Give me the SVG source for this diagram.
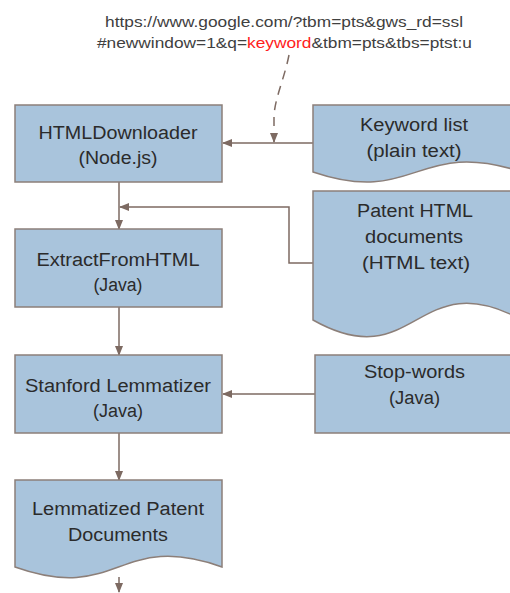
<svg xmlns="http://www.w3.org/2000/svg" width="510" height="593" viewBox="0 0 510 593">
<style>
.box{fill:#a9c4dc;stroke:#8c7f79;stroke-width:1.5}
.t{font-family:"Liberation Sans",Arial,sans-serif;font-size:18px;fill:#2b2b2b;text-anchor:middle}
.u{font-family:"Liberation Sans",Arial,sans-serif;font-size:14px;fill:#404040;text-anchor:middle}
.c{fill:none;stroke:#7d6a62;stroke-width:1.5}
</style>
<defs>
<marker id="ah" markerUnits="userSpaceOnUse" markerWidth="10" markerHeight="10" viewBox="0 0 10 10" refX="9" refY="5" orient="auto">
<path d="M0,1 L10,5 L0,9 z" fill="#7d6a62"/>
</marker>
</defs>
<g id="url">
<text class="u" x="284" y="27" textLength="358" lengthAdjust="spacingAndGlyphs">https://www.google.com/?tbm=pts&amp;gws_rd=ssl</text>
<text class="u" x="284.5" y="48" textLength="375" lengthAdjust="spacingAndGlyphs">#newwindow=1&amp;q=<tspan fill="#ff2020">keyword</tspan>&amp;tbm=pts&amp;tbs=ptst:u</text>
</g>
<g id="connectors">
<path class="c" d="M313,143 H223" marker-end="url(#ah)"/>
<path class="c" d="M289,55 C284,80 274,100 274,118 V142" stroke-dasharray="9,7" marker-end="url(#ah)"/>
<path class="c" d="M119,182 V229" marker-end="url(#ah)"/>
<path class="c" d="M313,263 H289 V207 H120" marker-end="url(#ah)"/>
<path class="c" d="M119,307 V355" marker-end="url(#ah)"/>
<path class="c" d="M315,394 H223" marker-end="url(#ah)"/>
<path class="c" d="M119,433 V480" marker-end="url(#ah)"/>
<path class="c" d="M119,577 V592" marker-end="url(#ah)"/>
</g>
<g id="htmldownloader">
<rect class="box" x="15" y="105" width="207" height="77"/>
<text class="t" x="118" y="139" textLength="159" lengthAdjust="spacingAndGlyphs">HTMLDownloader</text>
<text class="t" x="118" y="164" textLength="79" lengthAdjust="spacingAndGlyphs">(Node.js)</text>
</g>
<g id="keywordlist">
<path class="box" d="M313,105 H522 V172 C416,137 416,207 313,172 Z"/>
<text class="t" x="414" y="131" textLength="108" lengthAdjust="spacingAndGlyphs">Keyword list</text>
<text class="t" x="414" y="157" textLength="95" lengthAdjust="spacingAndGlyphs">(plain text)</text>
</g>
<g id="extractfromhtml">
<rect class="box" x="15" y="229" width="207" height="78"/>
<text class="t" x="118" y="266" textLength="163" lengthAdjust="spacingAndGlyphs">ExtractFromHTML</text>
<text class="t" x="118" y="291" textLength="49" lengthAdjust="spacingAndGlyphs">(Java)</text>
</g>
<g id="patenthtml">
<path class="box" d="M313,191 H522 V320 C416,262 416,378 313,320 Z"/>
<text class="t" x="415" y="217" textLength="116" lengthAdjust="spacingAndGlyphs">Patent HTML</text>
<text class="t" x="414" y="243" textLength="98" lengthAdjust="spacingAndGlyphs">documents</text>
<text class="t" x="416" y="269" textLength="108" lengthAdjust="spacingAndGlyphs">(HTML text)</text>
</g>
<g id="stanford">
<rect class="box" x="15" y="355" width="207" height="78"/>
<text class="t" x="118" y="392" textLength="186" lengthAdjust="spacingAndGlyphs">Stanford Lemmatizer</text>
<text class="t" x="118" y="417" textLength="50" lengthAdjust="spacingAndGlyphs">(Java)</text>
</g>
<g id="stopwords">
<rect class="box" x="315" y="355" width="207" height="78"/>
<text class="t" x="414.5" y="378" textLength="101" lengthAdjust="spacingAndGlyphs">Stop-words</text>
<text class="t" x="414.5" y="404" textLength="51" lengthAdjust="spacingAndGlyphs">(Java)</text>
</g>
<g id="lemmatized">
<path class="box" d="M15,480 H222 V567 C118.5,530 118.5,604 15,567 Z"/>
<text class="t" x="118" y="515" textLength="172" lengthAdjust="spacingAndGlyphs">Lemmatized Patent</text>
<text class="t" x="118" y="541" textLength="100" lengthAdjust="spacingAndGlyphs">Documents</text>
</g>
</svg>
